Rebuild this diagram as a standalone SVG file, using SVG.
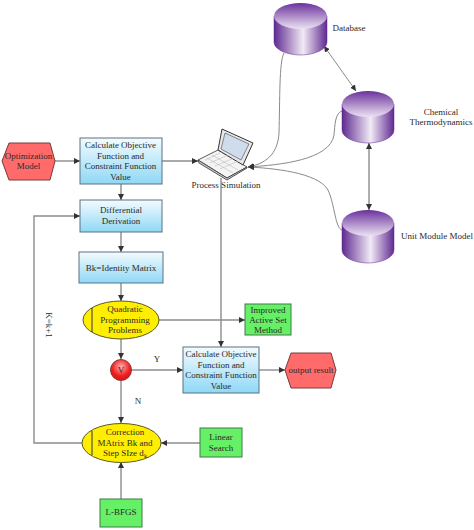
<svg xmlns="http://www.w3.org/2000/svg" width="474" height="530" viewBox="0 0 474 530">
<style>
text{font-family:"Liberation Serif","Times New Roman",serif;font-size:9px;fill:#2a2a2a;text-anchor:middle}
.b{stroke:#5a7280;stroke-width:1;fill:url(#blue)}
.g{stroke:#3f7a4a;stroke-width:1;fill:#66f066}
.h{stroke:#7a3a3a;stroke-width:1;fill:#ff6a6a}
.y{stroke:#5a5a20;stroke-width:1;fill:#ffee00}
.c{fill:none;stroke:#8c8c8c;stroke-width:1.4}
.t{fill:none;stroke:#8a8a8a;stroke-width:1}
.cb{fill:url(#pur)}
.ct{fill:url(#purtop)}
</style>
<defs>
<linearGradient id="blue" x1="0" y1="0" x2="0" y2="1"><stop offset="0" stop-color="#f4fbfe"/><stop offset="1" stop-color="#8fd8f6"/></linearGradient>
<linearGradient id="pur" x1="0" y1="0" x2="1" y2="0"><stop offset="0" stop-color="#5f2a90"/><stop offset="0.55" stop-color="#f2eaf6"/><stop offset="1" stop-color="#5f2a90"/></linearGradient>
<linearGradient id="purtop" x1="0" y1="0" x2="0" y2="1"><stop offset="0" stop-color="#6a329c"/><stop offset="1" stop-color="#ece2f2"/></linearGradient>
<radialGradient id="red" cx="0.5" cy="0.35" r="0.7"><stop offset="0" stop-color="#ffb0b0"/><stop offset="0.6" stop-color="#f02020"/><stop offset="1" stop-color="#d01010"/></radialGradient>
<marker id="a" markerWidth="7" markerHeight="6" refX="6" refY="3" orient="auto-start-reverse" markerUnits="userSpaceOnUse"><path d="M0 0L6 3L0 6z" fill="#333"/></marker>
</defs>
<g id="connectors">
<path class="c" d="M55 161H80" marker-end="url(#a)"/>
<path class="c" d="M162 161H198" marker-end="url(#a)"/>
<path class="c" d="M121 184V200" marker-end="url(#a)"/>
<path class="c" d="M121 232V252" marker-end="url(#a)"/>
<path class="c" d="M121 283V301" marker-end="url(#a)"/>
<path class="c" d="M121 339V359" marker-end="url(#a)"/>
<path class="c" d="M121 381V423" marker-end="url(#a)"/>
<path class="c" d="M121 499V462" marker-end="url(#a)"/>
<path class="c" d="M200 443H161" marker-end="url(#a)"/>
<path class="c" d="M82 443H34V216H80" marker-end="url(#a)"/>
<path class="c" d="M159 320H245" marker-end="url(#a)"/>
<path class="c" d="M221 178V347" marker-end="url(#a)"/>
<path class="c" d="M132 370H183" marker-end="url(#a)"/>
<path class="c" d="M259 370H285" marker-end="url(#a)"/>
<path class="t" d="M284 53C279 62 280 100 279 133C278 150 270 163 248 167" marker-end="url(#a)"/>
<path class="t" d="M342 111C335 113 335 125 334 135C330 160 280 165 248 167" marker-end="url(#a)"/>
<path class="t" d="M342 230C335 228 335 205 328 190C318 172 270 168 248 167" marker-end="url(#a)"/>
<path class="t" d="M324 46L356 91" marker-start="url(#a)" marker-end="url(#a)"/>
<path class="c" d="M369 143V210" marker-start="url(#a)" marker-end="url(#a)"/>
</g>
<g id="optimization-model"><polygon class="h" points="2,161 9,143 50,143 55,161 50,180 9,180"/><text x="28.500" y="159">Optimization</text><text x="28.500" y="169">Model</text></g>
<g id="calc-1"><rect class="b" x="80" y="138" width="82" height="46"/><text x="120.500" y="148">Calculate Objective</text><text x="120.500" y="159">Function and</text><text x="120.500" y="169">Constraint Function</text><text x="120.500" y="180">Value</text></g>
<g id="differential"><rect class="b" x="80" y="200" width="82" height="32"/><text x="121" y="213">Differential</text><text x="121" y="224">Derivation</text></g>
<g id="identity"><rect class="b" x="79" y="252" width="84" height="31"/><text x="121" y="271">Bk=Identity Matrix</text></g>
<g id="qp"><ellipse class="y" cx="121" cy="320" rx="38" ry="19"/><path d="M92 308V332" stroke="#333" stroke-width="1"/><text x="125" y="312">Quadratic</text><text x="125" y="323">Programming</text><text x="125" y="333">Problems</text></g>
<g id="improved"><rect class="g" x="245" y="304" width="46" height="31"/><text x="268" y="312.500">Improved</text><text x="268" y="322.500">Active Set</text><text x="268" y="333">Method</text></g>
<g id="v"><circle cx="121" cy="370" r="10.500" fill="url(#red)" stroke="#8a3a3a"/><text x="121" y="373">V</text></g>
<g id="calc-2"><rect class="b" x="183" y="347" width="76" height="46"/><text x="221" y="357">Calculate Objective</text><text x="221" y="368">Function and</text><text x="221" y="378">Constraint Function</text><text x="221" y="389">Value</text></g>
<g id="output"><polygon class="h" points="285,370 291,353 331,353 336,370 331,388 291,388"/><text x="311" y="373">output result</text></g>
<g id="correction"><ellipse class="y" cx="121.500" cy="443" rx="39.500" ry="19.500"/><path d="M92 431V455" stroke="#333" stroke-width="1"/><text x="125" y="435">Correction</text><text x="125" y="445.500">MAtrix Bk and</text><text x="125" y="456">Step SIze d<tspan font-size="6.500" dy="2">k</tspan></text></g>
<g id="linear-search"><rect class="g" x="200" y="428" width="42" height="29"/><text x="221" y="440">Linear</text><text x="221" y="451">Search</text></g>
<g id="lbfgs"><rect class="g" x="100" y="499" width="42" height="28"/><text x="121" y="515">L-BFGS</text></g>
<text x="157" y="362">Y</text>
<text x="138" y="404">N</text>
<text transform="translate(46 325) rotate(90)">K=k+1</text>
<g id="process-simulation">
<polygon points="198,160 218,150 247,167 227,178" fill="#f4f4f4" stroke="#333" stroke-width="0.800"/>
<path d="M198 160L199 163L227 180L247 168V167L227 178z" fill="#ccc" stroke="#333" stroke-width="0.800"/>
<polygon points="222,129 253,143 243,165 218,150" fill="#e8e8e8" stroke="#333" stroke-width="1"/>
<polygon points="225,133 249,144 241,160 221,149" fill="#cfdcec" stroke="#444" stroke-width="0.600"/>
<path d="M205 160L222 152M210 163L228 155M215 166L234 158M220 169L238 161M212 155L238 170M207 158L233 173" stroke="#bbb" stroke-width="0.600" fill="none"/>
<text x="226" y="188">Process Simulation</text>
</g>
<g id="database"><path class="cb" d="M274 16V42A26.500 13 0 0 0 327 42V16z" stroke="#5f2a90" stroke-width="0.500"/><ellipse class="ct" cx="300.500" cy="16" rx="26.500" ry="13"/><text x="349" y="31">Database</text></g>
<g id="chemical"><path class="cb" d="M342 104V130A26 13 0 0 0 394 130V104z" stroke="#5f2a90" stroke-width="0.500"/><ellipse class="ct" cx="368" cy="104" rx="26" ry="13"/><text x="441" y="115">Chemical</text><text x="441" y="125">Thermodynamics</text></g>
<g id="unit-module"><path class="cb" d="M342 223V250A26 13 0 0 0 394 250V223z" stroke="#5f2a90" stroke-width="0.500"/><ellipse class="ct" cx="368" cy="223" rx="26" ry="13"/><text x="437" y="239">Unit Module Model</text></g>
</svg>
